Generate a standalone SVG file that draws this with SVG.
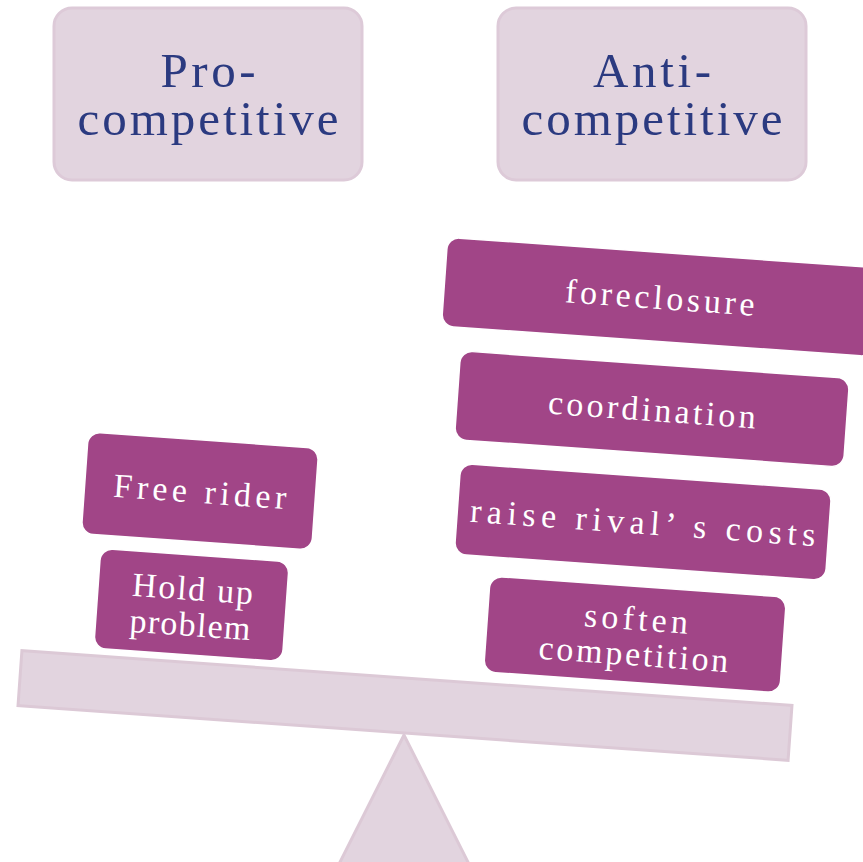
<svg xmlns="http://www.w3.org/2000/svg" width="863" height="862" viewBox="0 0 863 862">
  <style>
    .head rect { fill: #E2D4DF; stroke: #DDCAD8; stroke-width: 3; }
    .head text { fill: #2B3A80; font-family: "Liberation Serif", "DejaVu Serif", serif; font-size: 49px; text-anchor: middle; }
    .item rect { fill: #A14587; stroke: #FFFFFF; stroke-width: 1.5; }
    .item text { fill: #FFFFFF; font-family: "Liberation Serif", "DejaVu Serif", serif; font-size: 34px; text-anchor: middle; }
    .scale { fill: #E2D4DF; stroke: #DCC9D6; stroke-width: 3; }
  </style>
  <rect width="863" height="862" fill="#FFFFFF"/>

  <!-- fulcrum and beam -->
  <g id="fulcrum">
    <polygon class="scale" points="404,735 330,882 478,882"/>
  </g>
  <g id="beam">
    <rect class="scale" x="19" y="678" width="772" height="55" transform="rotate(4.07 405 705.5)"/>
  </g>

  <!-- category headers -->
  <g id="pro" class="head">
    <rect x="54" y="8" width="308" height="172" rx="18"/>
    <text x="208" y="87" textLength="95" lengthAdjust="spacing">Pro-</text>
    <text x="208" y="135" textLength="261" lengthAdjust="spacing">competitive</text>
  </g>
  <g id="anti" class="head">
    <rect x="498" y="8" width="308" height="172" rx="18"/>
    <text x="652" y="87" textLength="118" lengthAdjust="spacing">Anti-</text>
    <text x="652" y="135" textLength="261" lengthAdjust="spacing">competitive</text>
  </g>

  <!-- anti-competitive weights -->
  <g id="foreclosure" class="item" transform="rotate(4.07 660 297)">
    <rect x="444" y="252.5" width="432" height="89" rx="12"/>
    <text x="660" y="309" textLength="190" lengthAdjust="spacing">foreclosure</text>
  </g>
  <g id="coordination" class="item" transform="rotate(4.07 652 409)">
    <rect x="457" y="364.5" width="390" height="89" rx="12"/>
    <text x="652" y="421" textLength="208" lengthAdjust="spacing">coordination</text>
  </g>
  <g id="raise-costs" class="item" transform="rotate(4.07 643 522)">
    <rect x="457" y="476.5" width="372" height="91" rx="12"/>
    <text x="643" y="534" textLength="346" lengthAdjust="spacing">raise rival’ s costs</text>
  </g>
  <g id="soften" class="item" transform="rotate(4.07 635 634.5)">
    <rect x="486.5" y="586.5" width="297" height="96" rx="12"/>
    <text x="635" y="630" textLength="104" lengthAdjust="spacing">soften</text>
    <text x="635" y="665.5" textLength="190" lengthAdjust="spacing">competition</text>
  </g>

  <!-- pro-competitive weights -->
  <g id="free-rider" class="item" transform="rotate(4.07 200 491)">
    <rect x="84.5" y="440" width="231" height="102" rx="12"/>
    <text x="200" y="503" textLength="173" lengthAdjust="spacing">Free rider</text>
  </g>
  <g id="hold-up" class="item" transform="rotate(4.07 191.5 605)">
    <rect x="97" y="555" width="189" height="100" rx="12"/>
    <text x="191.5" y="600" textLength="121" lengthAdjust="spacing">Hold up</text>
    <text x="191.5" y="636" textLength="121" lengthAdjust="spacing">problem</text>
  </g>
</svg>
